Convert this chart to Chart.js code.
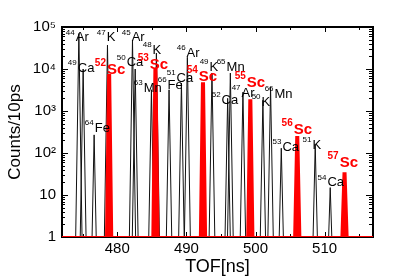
<!DOCTYPE html>
<html>
<head>
<meta charset="utf-8">
<script src="https://cdn.jsdelivr.net/npm/chart.js@4.4.0/dist/chart.umd.min.js"></script>
<style>
  body { margin: 0; background: #fff; }
  #wrap { width: 415px; height: 280px; }
</style>
</head>
<body>
<div id="wrap"><canvas id="tofChart" width="415" height="280"></canvas></div>
<script>
// black (contaminant) peaks: centroid TOF in ns, height in counts, base half-width in ns
const blackTof = [474.44, 475.06, 476.65, 478.58, 482.2, 482.59, 484.94, 485.66, 487.49, 489.28,
                  490.14, 493.7, 495.97, 496.36, 498.18, 501.07, 502.18, 503.73, 508.64, 510.81];
const blackCounts = [70000, 10000, 270, 37000, 49000, 10000, 3200, 24000, 3200, 4600,
                     19000, 8000, 2000, 8000, 2800, 1800, 3700, 130, 155, 15];
const blackHalfWidth = [0.46, 0.42, 0.3, 0.45, 0.45, 0.42, 0.39, 0.44, 0.39, 0.4,
                        0.43, 0.41, 0.38, 0.41, 0.39, 0.38, 0.39, 0.3, 0.31, 0.23];
// red Sc peaks
const scTof = [478.82, 485.52, 492.4, 499.25, 506.04, 512.88];
const scCounts = [7200, 10000, 4600, 1800, 240, 33];

// axes
const xTicks = [480, 490, 500, 510];
const yTicks = [1, 10, 100, 1000, 10000, 100000];
const yTickLabels = ['1', '10', '10²', '10³', '10⁴', '10⁵'];

// peak name annotations (anchor in TOF / counts)
const labelMass = ['44', '49', '64', '47', '52', '45', '50', '63', '48', '53', '66', '51', '46',
                   '54', '49', '65', '52', '55', '47', '50', '66', '56', '53', '51', '54', '57'];
const labelElem = ['Ar', 'Ca', 'Fe', 'K', 'Sc', 'Ar', 'Ca', 'Mn', 'K', 'Sc', 'Fe', 'Ca', 'Ar',
                   'Sc', 'K', 'Mn', 'Ca', 'Sc', 'Ar', 'K', 'Mn', 'Sc', 'Ca', 'K', 'Ca', 'Sc'];
const labelTof = [472.56, 472.85, 475.3, 477.04, 476.75, 480.65, 479.93, 482.38, 483.68, 482.96,
                  485.85, 487.15, 488.6, 490.04, 491.92, 494.38, 493.66, 496.98, 496.55, 499.44,
                  501.32, 503.77, 502.47, 506.81, 508.97, 510.42];
const labelCounts = [55000, 10600, 390, 55000, 9500, 55000, 14000, 3500, 28000, 12500,
                     4150, 6100, 24000, 6460, 11200, 11200, 1830, 4640, 2680, 1640,
                     2540, 353, 139, 155, 20, 58];

const FONT = '"Liberation Sans", Arial, sans-serif';
const X_MIN = 472, X_MAX = 517;

// black peaks as separate spikes, broken by null
const blackPoints = [];
blackTof.forEach((t, i) => {
  const w = blackHalfWidth[i];
  blackPoints.push({x: t - w, y: 1}, {x: t, y: blackCounts[i]}, {x: t + w, y: 1}, {x: t + w, y: null});
});

// red trace along baseline with filled Sc peaks
const scPoints = [{x: X_MIN, y: 1}];
scTof.forEach((t, i) => {
  scPoints.push({x: t - 0.45, y: 1}, {x: t - 0.15, y: scCounts[i]}, {x: t + 0.15, y: scCounts[i]}, {x: t + 0.45, y: 1});
});
scPoints.push({x: X_MAX, y: 1});

const frame = {
  id: 'frame',
  beforeDatasetsDraw(chart) {
    const {ctx, chartArea: a, scales: {x, y}} = chart;
    ctx.save();
    ctx.strokeStyle = '#000';
    ctx.lineWidth = 2;
    ctx.strokeRect(a.left, a.top, a.right - a.left, a.bottom - a.top);
    ctx.lineWidth = 1;
    ctx.beginPath();
    for (let v = 475; v <= 515; v += 5) {
      const px = Math.round(x.getPixelForValue(v)) + 0.5;
      const len = v % 10 === 0 ? 5 : 3;
      ctx.moveTo(px, a.bottom); ctx.lineTo(px, a.bottom - len);
      ctx.moveTo(px, a.top); ctx.lineTo(px, a.top + len);
    }
    for (let d = 1; d <= 100000; d *= 10) {
      for (let k = 1; k < 10; k++) {
        const v = d * k;
        if (v > 100000) break;
        const py = Math.round(y.getPixelForValue(v)) + 0.5;
        const len = k === 1 ? 6 : 3;
        ctx.moveTo(a.left, py); ctx.lineTo(a.left + len, py);
        ctx.moveTo(a.right, py); ctx.lineTo(a.right - len - 1, py);
      }
    }
    ctx.stroke();
    ctx.restore();
  }
};

const peakNotes = {
  id: 'peakNotes',
  afterDatasetsDraw(chart) {
    const {ctx, scales: {x, y}} = chart;
    ctx.save();
    ctx.textBaseline = 'middle';
    ctx.textAlign = 'left';
    labelMass.forEach((m, i) => {
      const sc = labelElem[i] === 'Sc';
      const px = x.getPixelForValue(labelTof[i]);
      const py = y.getPixelForValue(labelCounts[i]);
      ctx.fillStyle = sc ? '#ff0000' : '#000';
      ctx.font = (sc ? 'bold 10px ' : '8px ') + FONT;
      ctx.fillText(m, px, py - (sc ? 7 : 5));
      const w = ctx.measureText(m).width;
      ctx.font = (sc ? 'bold 15px ' : '13px ') + FONT;
      ctx.fillText(labelElem[i], px + w + 1, py);
    });
    ctx.restore();
  }
};

const ctx = document.getElementById('tofChart').getContext('2d');
const tofChart = new Chart(ctx, {
  type: 'line',
  data: {
    datasets: [{
      data: scPoints,
      borderColor: '#ff0000',
      backgroundColor: '#ff0000',
      borderWidth: 2,
      fill: 'start',
      pointRadius: 0,
      order: 0
    }, {
      data: blackPoints,
      borderColor: '#111',
      borderWidth: 1,
      fill: false,
      pointRadius: 0,
      spanGaps: false,
      order: 1
    }]
  },
  options: {
    responsive: false,
    animation: false,
    devicePixelRatio: 1,
    layout: { padding: { top: 27, right: 42, left: 0, bottom: 0 } },
    plugins: { legend: { display: false }, tooltip: { enabled: false } },
    scales: {
      x: {
        type: 'linear',
        min: X_MIN,
        max: X_MAX,
        grid: { display: false, drawTicks: false },
        border: { display: false },
        afterBuildTicks: s => { s.ticks = xTicks.map(v => ({ value: v })); },
        ticks: { font: { family: FONT, size: 15 }, color: '#000', padding: 3, maxRotation: 0 },
        title: { display: true, text: 'TOF[ns]', color: '#000', font: { family: FONT, size: 18 }, padding: { top: 0, bottom: 2 } },
        afterFit: s => { s.height = 43; }
      },
      y: {
        type: 'logarithmic',
        min: 1,
        max: 100000,
        grid: { display: false, drawTicks: false },
        border: { display: false },
        afterBuildTicks: s => { s.ticks = yTicks.map(v => ({ value: v })); },
        ticks: {
          font: { family: FONT, size: 15 }, color: '#000', padding: 6,
          callback: v => { const i = yTicks.indexOf(v); return i < 0 ? '' : yTickLabels[i]; }
        },
        title: { display: true, text: 'Counts/10ps', color: '#000', font: { family: FONT, size: 17 }, padding: { top: 5, bottom: 0 } },
        afterFit: s => { s.width = 62; }
      }
    }
  },
  plugins: [frame, peakNotes]
});
</script>
</body>
</html>
